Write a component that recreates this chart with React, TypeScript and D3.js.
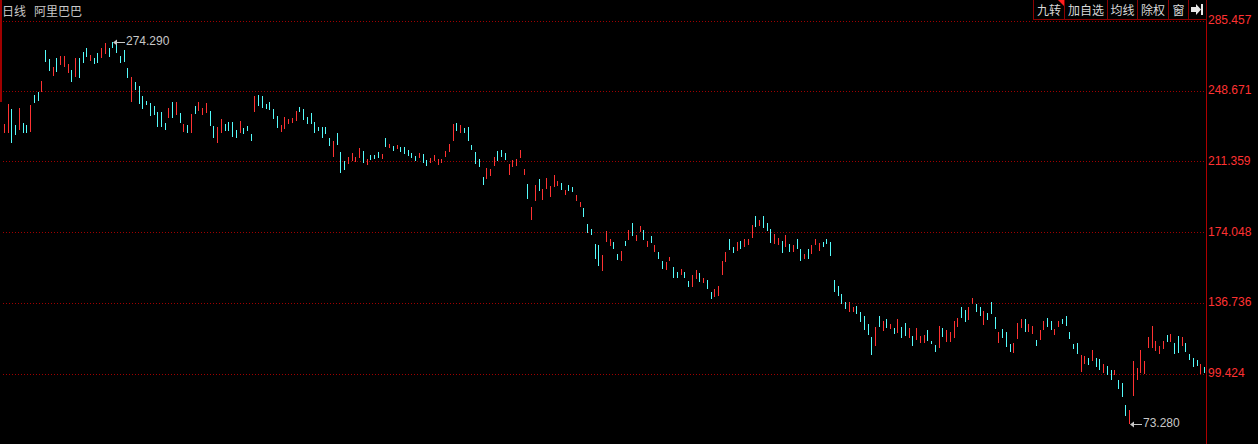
import React, { useEffect } from "react";
import * as d3 from "d3";

// ---- data (daily bars, high / low / direction) ----
const HIGHS: number[] = [
  231.11, 241.64, 239.01, 230.58, 239.70, 231.48, 230.58, 241.12, 246.38, 247.81,
  253.92, 270.09, 265.35, 261.29, 266.03, 267.09, 267.09, 262.71, 259.55, 266.03,
  266.03, 269.19, 270.99, 267.46, 265.72, 268.35, 270.99, 273.90, 270.99, 274.29,
  273.25, 266.93, 270.09, 260.45, 256.02, 253.39, 251.13, 245.86, 243.38, 242.33,
  240.59, 237.59, 237.59, 231.48, 239.38, 242.85, 242.85, 236.74, 230.95, 230.58,
  236.37, 240.59, 242.85, 239.38, 242.33, 238.11, 230.05, 229.68, 233.58, 231.11,
  232.32, 232.32, 227.95, 232.85,
  229.16, 230.05, 225.84, 245.86, 246.38, 245.86, 241.64, 242.54, 239.01, 235.32,
  230.58, 234.64, 233.74, 234.27, 238.11, 239.90, 239.01, 234.64, 236.74, 232.00,
  229.68, 229.37, 229.37, 223.57, 222.15, 226.21, 216.20, 211.62, 213.72, 215.67,
  213.88, 218.31, 216.88, 212.67, 214.78, 214.78, 216.20, 215.30, 223.89, 220.41,
  219.52, 220.04, 219.15, 219.15, 217.41, 215.67, 214.41, 215.99, 215.30, 212.14,
  213.04, 214.78, 212.67, 212.67, 216.88, 220.41, 231.11, 231.48, 230.58, 229.16,
  229.68, 220.04, 216.51, 212.67,
  203.34, 208.09, 207.40, 213.56, 216.88, 217.41, 215.67, 210.03, 212.14, 212.67,
  217.41, 207.40, 199.50, 187.54, 198.97, 202.13, 196.86, 202.82, 198.45, 204.24,
  201.08, 200.18, 196.34, 198.97, 198.08, 193.70, 190.17, 187.01, 178.43, 175.79,
  167.89, 167.36, 162.10, 174.90, 170.52, 169.10, 162.62, 164.20, 169.47, 175.27,
  178.80, 172.63, 177.37, 175.27, 169.47, 172.11, 167.36, 163.52, 158.94, 158.25,
  161.20, 155.62, 152.98, 154.72, 152.98, 148.40, 151.56, 154.19, 152.77, 150.14,
  148.93, 142.76, 144.18, 145.92,
  159.09, 163.83, 170.52, 166.47, 169.10, 169.63, 170.52, 170.37, 177.90, 182.64,
  180.53, 182.64, 178.80, 175.79, 173.00, 171.21, 169.47, 172.63, 167.73, 167.36,
  170.52, 165.26, 162.62, 165.26, 167.36, 170.52, 168.58, 169.10, 170.52, 169.10,
  148.93, 145.92, 141.55, 137.18, 137.18, 134.86, 135.23, 131.91, 129.96, 125.75,
  118.74, 124.01, 129.96, 127.33, 128.22, 125.75, 123.48, 128.38, 124.01, 126.12,
  123.80, 119.43, 123.48, 119.43, 119.95, 122.59, 116.79, 114.68, 124.85, 123.80,
  122.59, 121.69, 127.33, 129.07,
  134.86, 133.12, 134.86, 139.60, 136.28, 134.54, 132.75, 131.38, 137.49, 129.28,
  121.69, 123.11, 121.69, 115.21, 115.58, 126.12, 128.38, 128.38, 125.75, 124.69,
  117.32, 122.59, 127.33, 129.07, 127.33, 123.11, 127.33, 128.38, 129.96, 121.69,
  115.21, 115.58, 109.42, 108.89, 107.68, 112.05, 107.68, 107.31, 104.52, 103.62,
  101.51, 101.51, 96.25, 94.82, 83.08, 80.44, 106.26, 102.73, 112.05, 106.26,
  119.06, 124.69, 116.79, 114.16, 116.79, 119.95, 120.48, 115.58, 119.43, 119.06,
  115.58, 109.78, 107.99, 106.78, 104.67, 102.94,
];

const LOWS: number[] = [
  226.21, 226.21, 221.26, 225.31, 227.95, 226.21, 226.21, 227.05, 242.33, 243.38,
  248.12, 263.93, 259.19, 256.39, 258.66, 262.19, 261.29, 257.82, 253.39, 256.02,
  255.18, 263.08, 266.56, 264.45, 262.71, 263.40, 265.72, 267.98, 266.56, 270.99,
  268.67, 263.40, 263.93, 255.18, 242.85, 249.02, 241.64, 238.85, 241.12, 235.32,
  235.85, 229.37, 229.37, 227.95, 234.11, 234.11, 235.85, 231.48, 227.05, 226.52,
  226.52, 236.37, 238.11, 235.85, 236.74, 230.05, 223.57, 221.26, 226.21, 227.58,
  227.58, 224.42, 223.57, 226.21,
  225.84, 227.42, 222.15, 237.43, 240.75, 239.70, 239.01, 238.48, 233.74, 229.16,
  227.05, 228.47, 231.11, 231.79, 232.85, 237.59, 233.21, 231.11, 231.11, 226.52,
  227.42, 223.89, 225.84, 219.52, 213.88, 220.04, 205.45, 206.87, 210.03, 211.62,
  210.93, 213.35, 210.72, 209.51, 211.98, 212.51, 213.35, 212.67, 219.15, 218.62,
  217.04, 217.94, 216.20, 215.30, 214.41, 213.35, 211.62, 213.35, 210.40, 208.98,
  210.40, 211.62, 209.51, 210.40, 213.88, 216.51, 222.15, 227.42, 226.52, 226.52,
  222.15, 217.41, 210.03, 208.61,
  198.97, 202.13, 203.71, 208.98, 211.62, 213.56, 212.14, 204.24, 208.61, 208.98,
  213.35, 204.24, 191.60, 180.53, 190.54, 195.81, 191.07, 196.86, 192.81, 198.08,
  198.45, 196.34, 193.70, 195.81, 195.13, 190.54, 187.54, 182.27, 173.84, 172.63,
  159.99, 156.30, 153.67, 169.10, 166.84, 165.26, 159.46, 158.94, 166.84, 170.00,
  172.11, 169.47, 174.05, 170.00, 166.47, 168.58, 163.83, 159.99, 154.72, 154.19,
  159.09, 150.14, 150.14, 151.56, 150.14, 145.40, 145.40, 149.45, 148.03, 147.19,
  144.18, 138.92, 140.13, 140.50,
  151.56, 158.57, 164.73, 163.31, 164.20, 165.26, 166.47, 167.36, 171.21, 177.00,
  177.37, 176.48, 174.74, 168.58, 167.89, 167.36, 163.31, 166.47, 163.83, 163.83,
  165.26, 159.09, 159.99, 159.99, 162.62, 167.36, 164.20, 166.47, 167.73, 161.73,
  142.45, 140.66, 136.12, 133.65, 132.23, 132.23, 131.01, 126.96, 122.59, 119.95,
  109.42, 114.32, 124.33, 122.06, 123.48, 123.11, 120.48, 121.16, 118.53, 119.43,
  118.53, 114.32, 117.32, 115.90, 115.90, 116.79, 115.21, 111.15, 113.26, 119.06,
  116.42, 116.42, 118.53, 124.33,
  128.75, 126.96, 127.85, 136.28, 132.23, 129.96, 125.22, 127.85, 131.01, 123.11,
  115.90, 118.53, 113.79, 111.15, 110.63, 117.84, 123.80, 121.69, 121.69, 120.48,
  114.32, 117.32, 122.59, 124.01, 122.59, 119.95, 124.33, 125.59, 124.85, 117.84,
  112.58, 109.94, 100.30, 104.67, 104.15, 106.26, 103.25, 101.51, 99.78, 98.88,
  96.25, 98.88, 91.50, 87.45, 77.28, 73.28, 87.98, 96.25, 99.78, 99.25,
  113.26, 113.26, 111.52, 109.94, 112.58, 116.42, 116.11, 109.78, 110.63, 114.32,
  111.15, 106.78, 103.25, 103.62, 99.41, 100.09,
];

// u = up bar (red), d = down bar (cyan); ten bars per group
const DIR_GROUPS: string[] = [
  "uudduddudd", "udduduuudu", "dddudduudd", "dddduddddd", "ddddududud", "uduuudduud", "dddu",
  "dddudddddd", "uuuuuddddd", "dddduddduu", "uududddudu", "dudddddudd", "uuuuuuudud", "dddd",
  "duuuddduuu", "uuduuduuuu", "ududduuddd", "dduuuddudu", "duudududdu", "uddudduudu", "dduu",
  "uudduduuud", "uddduududu", "dduduuuddd", "dddduudddd", "dududududd", "uduuudddud", "uuuu",
  "dduudduddd", "uddduuuduu", "duudduuddd", "dduududdud", "duddduuuuu", "uuuuududdu", "ddddud",
];
const DIRS: string[] = DIR_GROUPS.join("").split("");

const TICKS: number[] = [285.457, 248.671, 211.359, 174.048, 136.736, 99.424];
const TICK_LABELS: string[] = ["285.457", "248.671", "211.359", "174.048", "136.736", "99.424"];
const TITLE_PERIOD = "日线";
const TITLE_NAME = "阿里巴巴";
const BUTTONS: string[] = ["九转", "加自选", "均线", "除权", "窗"];
const BUTTON_EDGES: number[] = [1033, 1064, 1107, 1137, 1168, 1188, 1206];
const MAX_LABEL = "274.290";
const MIN_LABEL = "73.280";

const W = 1258;
const H = 444;
const AXIS_X = 1206;
const UP = "#ff3232";
const DOWN = "#54fcfc";
const GRID = "#a00000";
const TEXT = "#c8c8c8";
const FONT = "'Liberation Sans', Arial, sans-serif";
const CJK = "'Noto Sans CJK SC', 'Noto Sans', sans-serif";

export default function App() {
  useEffect(() => {
    document.body.style.margin = "0";
    document.body.style.background = "#000";
  }, []);

  const n = HIGHS.length;
  const x = d3.scaleLinear().domain([0, n - 1]).range([4, 1204]);
  const y = d3.scaleLinear().domain([99.424, 285.457]).range([374, 20.83]);

  const maxIdx = d3.maxIndex(HIGHS);
  const minIdx = d3.minIndex(LOWS);
  const maxX = Math.round(x(maxIdx)) + 1;
  const maxY = y(HIGHS[maxIdx]);
  const minX = Math.round(x(minIdx)) + 1;
  const minY = y(LOWS[minIdx]);

  const arrow = (ax: number, ay: number, label: string) => (
    <g>
      <line x1={ax + 2} x2={ax + 12} y1={Math.round(ay) + 0.5} y2={Math.round(ay) + 0.5} stroke={TEXT} strokeWidth={1} />
      <path d={`M${ax},${Math.round(ay) + 0.5} l4,-3 l0,6 z`} fill={TEXT} />
      <text x={ax + 13} y={ay} dominantBaseline="middle" fontFamily={FONT} fontSize={12} fill={TEXT}>
        {label}
      </text>
    </g>
  );

  return (
    <svg
      width={W}
      height={H}
      style={{ position: "absolute", left: 0, top: 0, display: "block", background: "#000" }}
    >
      <rect x={0} y={0} width={W} height={H} fill="#000" />
      {/* left edge marker */}
      <rect x={0} y={0} width={2} height={102} fill="#a00000" />
      {/* grid lines */}
      {TICKS.map((t, i) => (
        <line
          key={"g" + i}
          x1={3}
          x2={AXIS_X}
          y1={Math.round(y(t)) + 0.5}
          y2={Math.round(y(t)) + 0.5}
          stroke={GRID}
          strokeWidth={1}
          strokeDasharray="1 2"
        />
      ))}
      {/* right axis line */}
      <line x1={AXIS_X + 0.5} x2={AXIS_X + 0.5} y1={0} y2={H} stroke="#b00000" strokeWidth={1} />
      {/* tick labels */}
      {TICKS.map((t, i) => (
        <text
          key={"t" + i}
          x={AXIS_X + 2}
          y={y(t)}
          dominantBaseline="middle"
          fontFamily={FONT}
          fontSize={12}
          fill="#ff3232"
        >
          {TICK_LABELS[i]}
        </text>
      ))}
      {/* bars */}
      {HIGHS.map((h, i) => {
        const top = Math.round(y(h));
        const bot = Math.round(y(LOWS[i]));
        return (
          <rect
            key={"b" + i}
            x={Math.round(x(i))}
            y={top}
            width={1}
            height={Math.max(1, bot - top)}
            fill={DIRS[i] === "u" ? UP : DOWN}
            shapeRendering="crispEdges"
          />
        );
      })}
      {/* extreme annotations */}
      {arrow(maxX, maxY, MAX_LABEL)}
      {arrow(minX, minY, MIN_LABEL)}
      {/* title */}
      <text x={2} y={16} fontFamily={CJK} fontSize={12} fill={TEXT}>
        {TITLE_PERIOD}
      </text>
      <text x={34} y={16} fontFamily={CJK} fontSize={12} fill={TEXT}>
        {TITLE_NAME}
      </text>
      {/* buttons */}
      <g>
        <line x1={BUTTON_EDGES[0]} x2={AXIS_X} y1={19.5} y2={19.5} stroke="#8c0000" />
        {BUTTON_EDGES.map((e, i) => (
          <line key={"be" + i} x1={e + 0.5} x2={e + 0.5} y1={0} y2={20} stroke="#8c0000" />
        ))}
        {BUTTONS.map((b, i) => (
          <text
            key={"bt" + i}
            x={(BUTTON_EDGES[i] + BUTTON_EDGES[i + 1]) / 2 + 0.5}
            y={15}
            textAnchor="middle"
            fontFamily={CJK}
            fontSize={12}
            fill="#d8d8d8"
          >
            {b}
          </text>
        ))}
        <path d={`M${BUTTON_EDGES[1] - 6},0 L${BUTTON_EDGES[1]},0 L${BUTTON_EDGES[1]},6 Z`} fill="#ff2020" />
        {/* exit icon: arrow with bar */}
        <path d="M1191,7 L1196,7 L1196,4 L1201,9.5 L1196,15 L1196,12 L1191,12 Z" fill="#e8e8e8" />
        <rect x={1201} y={4} width={2} height={11} fill="#e8e8e8" />
      </g>
    </svg>
  );
}
